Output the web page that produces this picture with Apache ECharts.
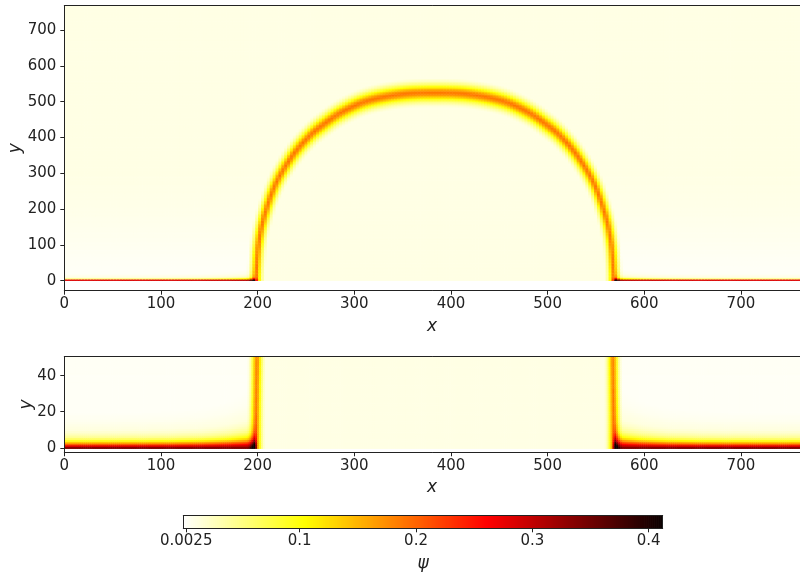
<!DOCTYPE html>
<html><head><meta charset="utf-8">
<script src="https://cdn.jsdelivr.net/npm/echarts@6/dist/echarts.min.js"></script>
<style>html,body{margin:0;padding:0;background:#fff}#c{width:800px;height:576px}</style>
</head><body><div id="c"></div>
<script>
// ---------------- values ----------------
const xTicks = [0, 100, 200, 300, 400, 500, 600, 700];
const yTicksTop = [0, 100, 200, 300, 400, 500, 600, 700];
const yTicksBottom = [0, 20, 40];
const cbTicks = [0.0025, 0.1, 0.2, 0.3, 0.4];
const cbTickLabels = ['0.0025', '0.1', '0.2', '0.3', '0.4'];
// interface centre line, left half of the droplet (mirrored about dropAxisX)
const arcLeftX = [198.6, 198.8, 201.0, 206.6, 218.7, 236.1, 254.0, 268.4, 287.7, 314.0, 348.2, 383.6];
const arcY     = [0,     28,    102,   177,   270,   349,   405,   437,   472,   503,   521,   525];
const dropAxisX = 383.6;
const contactLeft = 198.6;
const contactRight = 568.6;
// psi across the interface vs distance from its centre line (screen px)
const ringDist = [0, 1.5, 3, 4.5, 6, 7.5, 9];
const ringPsi  = [0.18, 0.155, 0.112, 0.068, 0.034, 0.012, 0];
// psi of the wall layer vs height y (outside the droplet)
const wallY   = [0, 1, 2, 3, 4, 5, 6, 8, 10, 15, 20];
const wallPsi = [0.34, 0.28, 0.2, 0.135, 0.09, 0.06, 0.04, 0.02, 0.01, 0.003, 0];
// background levels
const bgInside = 0.011;
const bgOutY   = [0, 20, 50, 100, 200, 300, 768];
const bgOutPsi = [0.003, 0.0035, 0.004, 0.006, 0.009, 0.011, 0.011];
// value ranges
const xMax = 761;
const topYRange = [-28, 768];
const botYRange = [-2.5, 50.5];
const psiRange = [0, 0.412];

// ---------------- field construction ----------------
function interp(xs, ys, v) {
  if (v <= xs[0]) return ys[0];
  for (let i = 1; i < xs.length; i++) {
    if (v <= xs[i]) { const f = (v - xs[i-1]) / (xs[i] - xs[i-1]); return ys[i-1] + f * (ys[i] - ys[i-1]); }
  }
  return ys[ys.length - 1];
}
const SX = 735.6 / 761, SY = 0.22; // metric for the interface thickness
// smooth centre line through the read points (Catmull-Rom)
const pts = [];
for (let i = 0; i < arcY.length; i++) pts.push([arcLeftX[i], arcY[i]]);
for (let i = arcY.length - 2; i >= 0; i--) pts.push([2 * dropAxisX - arcLeftX[i], arcY[i]]);
const poly = [];
for (let i = 0; i < pts.length - 1; i++) {
  const p0 = pts[Math.max(0, i - 1)], p1 = pts[i], p2 = pts[i + 1], p3 = pts[Math.min(pts.length - 1, i + 2)];
  for (let k = 0; k < 8; k++) {
    const t = k / 8, t2 = t * t, t3 = t2 * t;
    const f = (a, b, c, d) => 0.5 * (2 * b + (-a + c) * t + (2 * a - 5 * b + 4 * c - d) * t2 + (-a + 3 * b - 3 * c + d) * t3);
    poly.push([f(p0[0], p1[0], p2[0], p3[0]) * SX, f(p0[1], p1[1], p2[1], p3[1]) * SY]);
  }
}
poly.push([pts[pts.length - 1][0] * SX, pts[pts.length - 1][1] * SY]);
const halfW = arcLeftX.map(v => dropAxisX - v);
function distPoly(px, py) {
  let best = 1e9;
  for (let i = 0; i < poly.length - 1; i++) {
    const ax = poly[i][0], ay = poly[i][1], bx = poly[i+1][0], by = poly[i+1][1];
    const dx = bx - ax, dy = by - ay;
    const L = dx * dx + dy * dy;
    let t = L > 0 ? ((px - ax) * dx + (py - ay) * dy) / L : 0;
    t = Math.max(0, Math.min(1, t));
    const ex = ax + t * dx - px, ey = ay + t * dy - py;
    const d = ex * ex + ey * ey;
    if (d < best) best = d;
  }
  return Math.sqrt(best);
}
function psiAt(x, y) {
  const inside = y <= arcY[arcY.length - 1] && Math.abs(x - dropAxisX) < interp(arcY, halfW, y);
  const bg = inside ? bgInside : interp(bgOutY, bgOutPsi, y);
  const ring = interp(ringDist, ringPsi, distPoly(x * SX, y * SY));
  const dxo = x < dropAxisX ? contactLeft - x : x - contactRight;
  const w = Math.max(0, Math.min(1, 0.5 + dxo / 2.5));
  const thick = 1 + 0.8 * Math.exp(-Math.max(dxo, 0) / 30);
  const wall = w * interp(wallY, wallPsi, Math.max(0, y) / thick);
  return Math.max(psiRange[0], Math.min(psiRange[1], bg + ring + wall));
}

// top panel cells
const topCols = 254, topRows = 199;
const topData = [];
for (let j = 0; j < topRows; j++) {
  const y0 = topYRange[0] + j * (topYRange[1] - topYRange[0]) / topRows;
  if (y0 < 0) continue;
  const yc = j === 7 ? 1 : y0 + 2;
  for (let i = 0; i < topCols; i++) {
    const xc = (i + 0.5) * xMax / topCols;
    topData.push([i, j, +psiAt(xc, yc).toFixed(4)]);
  }
}
// bottom panel cells
const botCols = 381, botRows = 53;
const botData = [];
for (let j = 0; j < botRows; j++) {
  const yc = botYRange[0] + j + 0.5;
  if (yc < 0) continue;
  for (let i = 0; i < botCols; i++) {
    const xc = (i + 0.5) * xMax / botCols;
    botData.push([i, j, +psiAt(xc, yc).toFixed(4)]);
  }
}
// colour bar cells
const cbCols = 240;
const cbData = [];
for (let i = 0; i < cbCols; i++) cbData.push([i, 0, psiRange[0] + (i + 0.5) / cbCols * (psiRange[1] - psiRange[0])]);

// hot_r colormap
function hotR(t) {
  const s = 1 - t;
  const r = s < 0.365079 ? 0.0416 + (1 - 0.0416) * s / 0.365079 : 1;
  const g = s < 0.365079 ? 0 : (s < 0.746032 ? (s - 0.365079) / (0.746032 - 0.365079) : 1);
  const b = s < 0.746032 ? 0 : (s - 0.746032) / (1 - 0.746032);
  return 'rgb(' + Math.round(r * 255) + ',' + Math.round(g * 255) + ',' + Math.round(b * 255) + ')';
}
const cmap = Array.from({length: 129}, (_, i) => hotR(i / 128));

// ---------------- chart ----------------
const INK = '#222';
const FONT = 'DejaVu Sans';
const cats = n => Array.from({length: n}, (_, i) => String(i));
function valAxis(o) {
  return {
    type: 'value', gridIndex: o.grid, position: o.pos, min: o.min, max: o.max, z: 10,
    name: o.name || '', nameLocation: 'middle', nameGap: o.gap || 0, nameMoveOverlap: false,
    nameTextStyle: {fontFamily: FONT, fontStyle: 'italic', fontSize: 17, color: INK},
    axisLine: {show: true, onZero: false, lineStyle: {color: INK, width: 1}},
    axisTick: {show: !!o.ticks, length: 4, inside: false, lineStyle: {color: INK, width: 1}, customValues: o.ticks},
    axisLabel: {show: !!o.ticks, customValues: o.ticks, margin: o.margin || 6, fontFamily: FONT, fontSize: 15, color: INK,
      formatter: o.fmt || (v => String(v))},
    splitLine: {show: false}
  };
}
function catAxis(grid, n, pos) {
  return {type: 'category', gridIndex: grid, position: pos, data: cats(n), show: false, boundaryGap: true};
}

const option = {
  animation: false,
  backgroundColor: '#fff',
  grid: [
    {left: 64.3, top: 5.7, width: 735.6, height: 285, outerBoundsMode: 'none', containLabel: false},
    {left: 64.3, top: 356.7, width: 735.6, height: 95.6, outerBoundsMode: 'none', containLabel: false},
    {left: 183.3, top: 515.7, width: 479.4, height: 12.6, outerBoundsMode: 'none', containLabel: false}
  ],
  visualMap: {type: 'continuous', show: false, min: psiRange[0], max: psiRange[1], seriesIndex: [0, 1, 2], inRange: {color: cmap}},
  xAxis: [
    valAxis({grid: 0, pos: 'bottom', min: 0, max: xMax, ticks: xTicks, name: 'x', gap: 27}),
    valAxis({grid: 0, pos: 'top', min: 0, max: xMax}),
    catAxis(0, topCols, 'bottom'),
    valAxis({grid: 1, pos: 'bottom', min: 0, max: xMax, ticks: xTicks, name: 'x', gap: 27}),
    valAxis({grid: 1, pos: 'top', min: 0, max: xMax}),
    catAxis(1, botCols, 'bottom'),
    valAxis({grid: 2, pos: 'bottom', min: psiRange[0], max: psiRange[1], ticks: cbTicks, name: 'ψ', gap: 27, margin: 5,
      fmt: v => cbTickLabels[cbTicks.indexOf(v)] ?? String(v)}),
    valAxis({grid: 2, pos: 'top', min: psiRange[0], max: psiRange[1]}),
    catAxis(2, cbCols, 'bottom')
  ],
  yAxis: [
    valAxis({grid: 0, pos: 'left', min: topYRange[0], max: topYRange[1], ticks: yTicksTop, name: 'y', gap: 40, margin: 8}),
    valAxis({grid: 0, pos: 'right', min: topYRange[0], max: topYRange[1]}),
    catAxis(0, topRows, 'left'),
    valAxis({grid: 1, pos: 'left', min: botYRange[0], max: botYRange[1], ticks: yTicksBottom, name: 'y', gap: 29, margin: 8}),
    valAxis({grid: 1, pos: 'right', min: botYRange[0], max: botYRange[1]}),
    catAxis(1, botRows, 'left'),
    valAxis({grid: 2, pos: 'left', min: 0, max: 1}),
    valAxis({grid: 2, pos: 'right', min: 0, max: 1}),
    catAxis(2, 1, 'left')
  ],
  series: [
    {type: 'heatmap', xAxisIndex: 2, yAxisIndex: 2, data: topData, progressive: 0, silent: true, emphasis: {disabled: true}},
    {type: 'heatmap', xAxisIndex: 5, yAxisIndex: 5, data: botData, progressive: 0, silent: true, emphasis: {disabled: true}},
    {type: 'heatmap', xAxisIndex: 8, yAxisIndex: 8, data: cbData, progressive: 0, silent: true, emphasis: {disabled: true}}
  ]
};
const chart = echarts.init(document.getElementById('c'), null, {renderer: 'canvas'});
chart.setOption(option);
</script>
</body></html>
